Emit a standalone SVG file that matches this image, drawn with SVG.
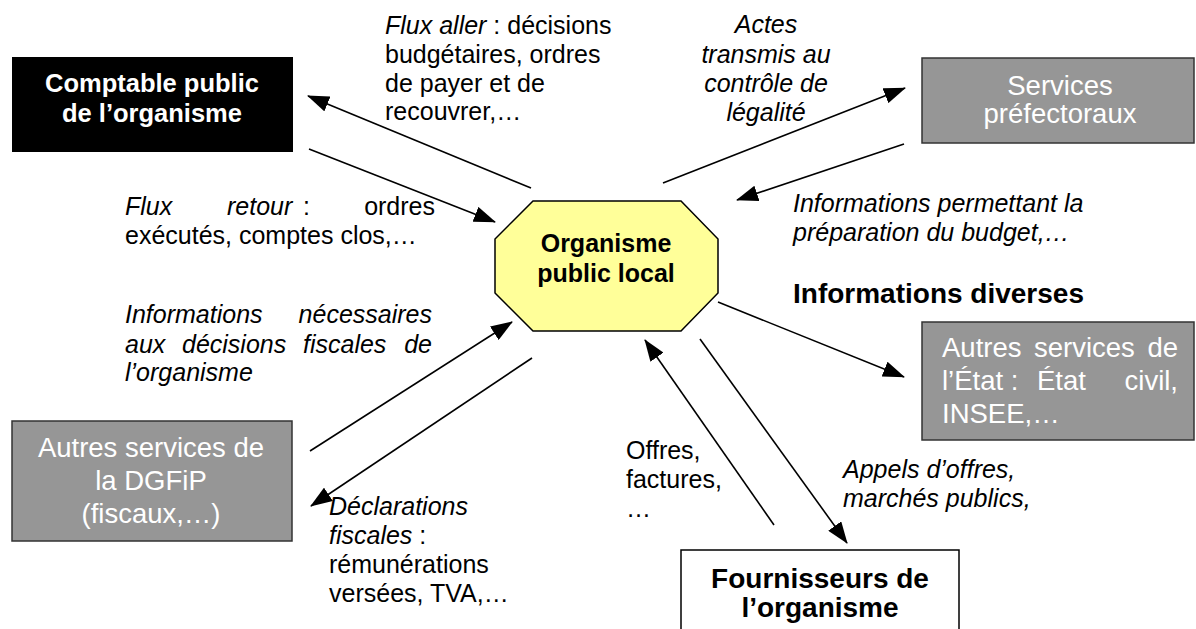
<svg xmlns="http://www.w3.org/2000/svg" width="1196" height="629" viewBox="0 0 1196 629">
<style>
text{font-family:"Liberation Sans",Arial,sans-serif;}
.lbl{font-size:25px;fill:#000;}
.it{font-style:italic;}
.gray{fill:#969696;stroke:#333;stroke-width:1.5;}
.gtxt{font-size:27.5px;fill:#fff;}
.bold{font-weight:bold;}
.conn{stroke:#000;stroke-width:1.6;fill:none;marker-end:url(#ah);}
</style>
<defs>
<marker id="ah" markerUnits="userSpaceOnUse" markerWidth="22" markerHeight="16" refX="21" refY="8" orient="auto">
<path d="M0,0 L22,8 L0,16 z" fill="#000"/>
</marker>
</defs>
<rect width="1196" height="629" fill="#fff"/>

<g id="connectors">
<line class="conn" x1="531" y1="188" x2="308" y2="96"/>
<line class="conn" x1="309" y1="149" x2="495" y2="222"/>
<line class="conn" x1="663" y1="183" x2="905" y2="88"/>
<line class="conn" x1="904" y1="144" x2="737" y2="200"/>
<line class="conn" x1="718" y1="302" x2="904" y2="377"/>
<line class="conn" x1="774" y1="525" x2="645" y2="340"/>
<line class="conn" x1="700" y1="339" x2="847" y2="543"/>
<line class="conn" x1="310" y1="451" x2="512" y2="322"/>
<line class="conn" x1="532" y1="358" x2="311" y2="506"/>
</g>

<g id="comptable">
<rect x="12" y="57" width="281" height="95" fill="#000"/>
<text class="bold" font-size="25.5" fill="#fff" text-anchor="middle" x="152" y="92">Comptable public</text>
<text class="bold" font-size="25.5" fill="#fff" text-anchor="middle" x="152" y="122">de l’organisme</text>
</g>

<g id="prefecture">
<rect class="gray" x="922" y="58" width="272" height="85"/>
<text class="gtxt" text-anchor="middle" x="1060" y="95">Services</text>
<text class="gtxt" text-anchor="middle" x="1060" y="123">préfectoraux</text>
</g>

<g id="organisme">
<polygon points="533,201 681,201 718,239 718,293 681,331 533,331 495,293 495,239" fill="#ffff99" stroke="#000" stroke-width="1.5"/>
<text class="bold" font-size="25" text-anchor="middle" x="606" y="252">Organisme</text>
<text class="bold" font-size="25" text-anchor="middle" x="606" y="282">public local</text>
</g>

<g id="etat">
<rect class="gray" x="922" y="322" width="272" height="118"/>
<text class="gtxt" x="942" y="357">Autres</text>
<text class="gtxt" x="1034" y="357">services</text>
<text class="gtxt" x="1178" y="357" text-anchor="end">de</text>
<text class="gtxt" x="942" y="390">l’État :</text>
<text class="gtxt" x="1037" y="390">État</text>
<text class="gtxt" x="1178" y="390" text-anchor="end">civil,</text>
<text class="gtxt" x="942" y="423">INSEE,…</text>
</g>

<g id="dgfip">
<rect class="gray" x="12" y="421" width="280" height="120"/>
<text class="gtxt" text-anchor="middle" x="151" y="457">Autres services de</text>
<text class="gtxt" text-anchor="middle" x="151" y="490">la DGFiP</text>
<text class="gtxt" text-anchor="middle" x="151" y="523">(fiscaux,…)</text>
</g>

<g id="fournisseurs">
<rect x="681" y="550" width="278" height="95" fill="#fff" stroke="#000" stroke-width="1.5"/>
<text class="bold" font-size="28" text-anchor="middle" x="820" y="588">Fournisseurs de</text>
<text class="bold" font-size="28" text-anchor="middle" x="820" y="617">l’organisme</text>
</g>

<g id="labels">
<text class="lbl" x="385" y="34"><tspan class="it">Flux aller</tspan> : décisions</text>
<text class="lbl" x="385" y="63">budgétaires, ordres</text>
<text class="lbl" x="385" y="92">de payer et de</text>
<text class="lbl" x="385" y="120">recouvrer,…</text>

<text class="lbl it" text-anchor="middle" x="766" y="33">Actes</text>
<text class="lbl it" text-anchor="middle" x="766" y="63">transmis au</text>
<text class="lbl it" text-anchor="middle" x="766" y="92">contrôle de</text>
<text class="lbl it" text-anchor="middle" x="766" y="121">légalité</text>

<text class="lbl it" x="125" y="215">Flux</text>
<text class="lbl it" x="227" y="215">retour</text>
<text class="lbl" x="303" y="215">:</text>
<text class="lbl" x="435" y="215" text-anchor="end">ordres</text>
<text class="lbl" x="125" y="244">exécutés, comptes clos,…</text>

<text class="lbl it" x="793" y="212">Informations permettant la</text>
<text class="lbl it" x="793" y="241">préparation du budget,…</text>

<text class="bold" font-size="28" x="793" y="303">Informations diverses</text>

<text class="lbl it" x="125" y="323">Informations</text>
<text class="lbl it" x="432" y="323" text-anchor="end">nécessaires</text>
<text class="lbl it" x="125" y="353">aux</text>
<text class="lbl it" x="182" y="353">décisions</text>
<text class="lbl it" x="303" y="353">fiscales</text>
<text class="lbl it" x="432" y="353" text-anchor="end">de</text>
<text class="lbl it" x="125" y="381">l’organisme</text>

<text class="lbl it" x="329" y="515">Déclarations</text>
<text class="lbl" x="329" y="544"><tspan class="it">fiscales</tspan> :</text>
<text class="lbl" x="329" y="573">rémunérations</text>
<text class="lbl" x="329" y="602">versées, TVA,…</text>

<text class="lbl" x="626" y="459">Offres,</text>
<text class="lbl" x="626" y="488">factures,</text>
<text class="lbl" x="626" y="517">…</text>

<text class="lbl it" x="843" y="478">Appels d’offres,</text>
<text class="lbl it" x="843" y="507">marchés publics,</text>
</g>
</svg>
